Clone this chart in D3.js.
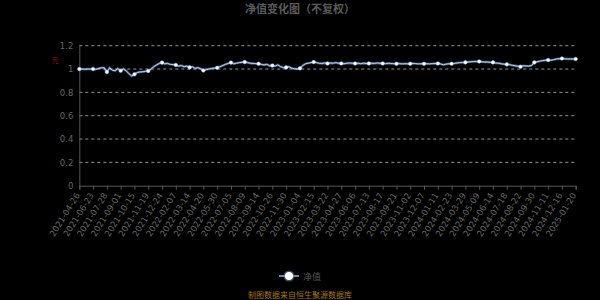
<!DOCTYPE html>
<html>
<head>
<meta charset="utf-8">
<script src="https://cdn.jsdelivr.net/npm/d3@7"></script>
<style>
  html, body { margin: 0; padding: 0; background: #000; }
  svg { display: block; font-family: "Noto Sans CJK SC", "DejaVu Sans", sans-serif; }
</style>
</head>
<body>
<svg id="chart" width="600" height="300"></svg>
<script>
// axis labels shown every 5th data point
const tickLabels = [
  "2021-04-26", "2021-06-23", "2021-07-28", "2021-09-01", "2021-10-15", "2021-11-19",
  "2021-12-24", "2022-02-07", "2022-03-14", "2022-04-20", "2022-05-30", "2022-07-05",
  "2022-08-09", "2022-09-14", "2022-10-26", "2022-11-30", "2023-01-04", "2023-02-15",
  "2023-03-22", "2023-04-27", "2023-06-06", "2023-07-13", "2023-08-17", "2023-09-21",
  "2023-11-02", "2023-12-07", "2024-01-11", "2024-02-23", "2024-03-29", "2024-05-09",
  "2024-06-14", "2024-07-18", "2024-08-22", "2024-09-30", "2024-11-11", "2024-12-16",
  "2025-01-20"
];

// net value, 5 points per labelled interval
const navValues = [
  1.000, 1.000, 0.998, 1.000, 1.000,
  1.000, 0.997, 1.005, 1.010, 1.012,
  0.975, 1.010, 0.990, 0.985, 1.005,
  0.985, 1.000, 0.985, 0.960, 0.940,
  0.955, 0.970, 0.975, 0.977, 0.980,
  0.983, 1.000, 1.020, 1.035, 1.048,
  1.055, 1.045, 1.048, 1.040, 1.038,
  1.035, 1.025, 1.030, 1.020, 1.025,
  1.014, 1.020, 1.005, 1.012, 1.002,
  0.988, 0.995, 1.000, 1.005, 1.008,
  1.011, 1.020, 1.030, 1.040, 1.048,
  1.055, 1.045, 1.050, 1.055, 1.058,
  1.060, 1.055, 1.050, 1.048, 1.046,
  1.045, 1.040, 1.035, 1.040, 1.028,
  1.030, 1.025, 1.035, 1.020, 1.012,
  1.014, 1.020, 1.008, 1.002, 1.000,
  1.006, 1.030, 1.045, 1.050, 1.055,
  1.060, 1.055, 1.050, 1.048, 1.052,
  1.048, 1.052, 1.050, 1.055, 1.050,
  1.048, 1.045, 1.050, 1.052, 1.050,
  1.048, 1.050, 1.046, 1.050, 1.048,
  1.048, 1.050, 1.048, 1.052, 1.050,
  1.048, 1.046, 1.049, 1.047, 1.046,
  1.045, 1.047, 1.044, 1.046, 1.045,
  1.045, 1.048, 1.046, 1.044, 1.046,
  1.045, 1.046, 1.044, 1.046, 1.047,
  1.048, 1.044, 1.036, 1.042, 1.045,
  1.045, 1.048, 1.052, 1.055, 1.056,
  1.057, 1.060, 1.062, 1.064, 1.064,
  1.065, 1.062, 1.060, 1.060, 1.058,
  1.057, 1.052, 1.050, 1.045, 1.042,
  1.040, 1.038, 1.032, 1.028, 1.024,
  1.020, 1.028, 1.026, 1.025, 1.030,
  1.057, 1.062, 1.068, 1.072, 1.075,
  1.077, 1.075, 1.080, 1.086, 1.088,
  1.090, 1.088, 1.086, 1.087, 1.086,
  1.086
];

const yTicks = [0, 0.2, 0.4, 0.6, 0.8, 1.0, 1.2];
const labelInterval = 5;

const margin = { top: 45.7, right: 24.3, bottom: 114.3, left: 79.3 };
const width = 600, height = 300;

const svg = d3.select("#chart");

const idx = d3.range(navValues.length);
const x = d3.scalePoint()
  .domain(idx)
  .range([margin.left, width - margin.right]);

const y = d3.scaleLinear()
  .domain([0, 1.2])
  .range([height - margin.bottom, margin.top]);

// title
svg.append("text")
  .attr("x", 300).attr("y", 13)
  .attr("text-anchor", "middle")
  .style("font-size", "11px")
  .style("font-weight", "bold")
  .style("fill", "#5a5a5a")
  .text("净值变化图（不复权）");

// grid lines
svg.append("g")
  .selectAll("line")
  .data(yTicks.filter(d => d > 0))
  .enter()
  .append("line")
  .attr("x1", margin.left)
  .attr("x2", width - margin.right)
  .attr("y1", d => y(d))
  .attr("y2", d => y(d))
  .attr("stroke", "#bbb")
  .attr("stroke-width", 0.8)
  .attr("stroke-dasharray", "3,3");

// y axis
const yAxis = svg.append("g")
  .attr("transform", `translate(${margin.left},0)`)
  .call(d3.axisLeft(y).tickValues(yTicks).tickSize(0).tickPadding(6)
    .tickFormat(d => String(+d.toFixed(1))));
yAxis.select(".domain").attr("stroke", "#555");
yAxis.selectAll("text").style("fill", "#666").style("font-size", "8.5px")
  .style("font-family", "DejaVu Sans, sans-serif");

// x axis
const xAxis = svg.append("g")
  .attr("transform", `translate(0,${height - margin.bottom})`)
  .call(d3.axisBottom(x)
    .tickValues(idx.filter(i => i % labelInterval === 0))
    .tickFormat(i => tickLabels[i / labelInterval])
    .tickSizeOuter(0)
    .tickSize(4));
xAxis.selectAll("line, .domain").attr("stroke", "#555");
xAxis.selectAll("text")
  .style("fill", "#666")
  .style("font-size", "8.5px")
  .style("font-family", "DejaVu Sans, sans-serif")
  .attr("text-anchor", "end")
  .attr("dx", "0")
  .attr("dy", "0.35em")
  .attr("transform", "translate(-2,8) rotate(-58)");
xAxis.selectAll("text").attr("y", 0);

// y axis name
svg.append("text")
  .attr("x", 55).attr("y", 63)
  .attr("text-anchor", "middle")
  .style("font-size", "7px")
  .style("fill", "#a01010")
  .text("元");

// line
const line = d3.line()
  .x((d, i) => x(i))
  .y(d => y(d));

svg.append("path")
  .datum(navValues)
  .attr("fill", "none")
  .attr("stroke", "#6f9ad3")
  .attr("stroke-width", 2.4)
  .attr("opacity", 0.6)
  .attr("d", line);

svg.append("path")
  .datum(navValues)
  .attr("fill", "none")
  .attr("stroke", "#b5d2f5")
  .attr("stroke-width", 1)
  .attr("d", line);

// symbols at labelled points
svg.append("g")
  .selectAll("circle")
  .data(idx.filter(i => i % labelInterval === 0))
  .enter()
  .append("circle")
  .attr("cx", i => x(i))
  .attr("cy", i => y(navValues[i]))
  .attr("r", 1.8)
  .attr("fill", "#fff")
  .attr("stroke", "#9ec3ee")
  .attr("stroke-width", 0.5);

// legend
const legend = svg.append("g").attr("transform", "translate(289,276)");
legend.append("line")
  .attr("x1", -10).attr("x2", 10)
  .attr("stroke", "#8fb5e6").attr("stroke-width", 1.5);
legend.append("circle")
  .attr("r", 5.5).attr("fill", "#6f9ad3").attr("opacity", 0.5);
legend.append("circle")
  .attr("r", 4).attr("fill", "#fff");
legend.append("text")
  .attr("x", 14).attr("y", 3.5)
  .style("font-size", "9px")
  .style("fill", "#555")
  .text("净值");

// source note
svg.append("text")
  .attr("x", 300).attr("y", 298)
  .attr("text-anchor", "middle")
  .style("font-size", "8px")
  .style("fill", "#a07810")
  .text("制图数据来自恒生聚源数据库");
</script>
</body>
</html>
